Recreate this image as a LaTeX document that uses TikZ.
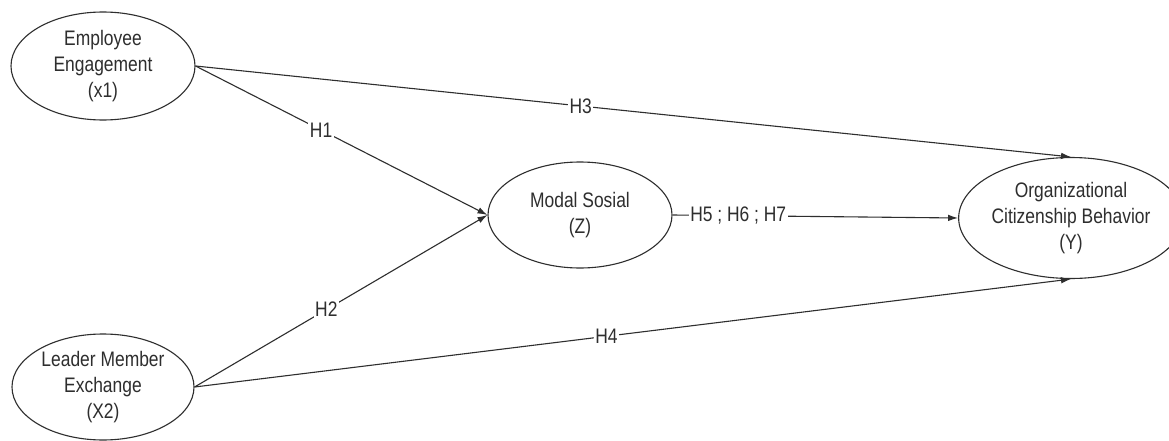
\documentclass[tikz,border=0pt]{standalone}
\usepackage{fontspec}
\setmainfont{Liberation Sans}[FakeStretch=0.83]
\usetikzlibrary{shapes.geometric,arrows.meta}
\definecolor{ink}{HTML}{2E2E2E}
\begin{document}
\begin{tikzpicture}[x=1pt,y=-1pt,
  construct/.style={ellipse,draw=ink,line width=1.1pt,inner sep=0pt,
    align=center,text=ink,font=\fontsize{21}{26}\selectfont},
  path/.style={draw=ink,line width=1.1pt,-{Latex[length=10pt,width=6.5pt]}},
  hyp/.style={fill=white,inner sep=1.5pt,text=ink,font=\fontsize{21}{24}\selectfont}]
  % canvas
  \fill[white] (0,0) rectangle (1169,441);
  \useasboundingbox (0,0) rectangle (1169,441);

  % constructs
  \node[construct,minimum width=184pt,minimum height=108pt] (ee) at (103,66)
    {Employee\\Engagement\\(x1)};
  \node[construct,minimum width=182pt,minimum height=106pt] (lme) at (103,387)
    {Leader Member\\Exchange\\(X2)};
  \node[construct,minimum width=184pt,minimum height=106pt] (ms) at (580,215)
    {Modal Sosial\\(Z)};
  \node[construct,minimum width=192pt,minimum height=121pt] (ocb) at (1071,218)
    {Organizational\\Citizenship Behavior\\(Y)};

  % hypothesised paths
  \draw[path] (ee.east) -- node[hyp,pos=0.43] {H1} (ms.west);
  \draw[path] (lme.east) -- node[hyp,pos=0.45] {H2} (ms.west);
  \draw[path] (ee.east) -- node[hyp,pos=0.44] {H3} (ocb.north);
  \draw[path] (lme.east) -- node[hyp,pos=0.47] {H4} (ocb.south);
  \draw[path] (ms.east) -- node[hyp,pos=0.23] {H5 ; H6 ; H7} (ocb.west);
\end{tikzpicture}
\end{document}
